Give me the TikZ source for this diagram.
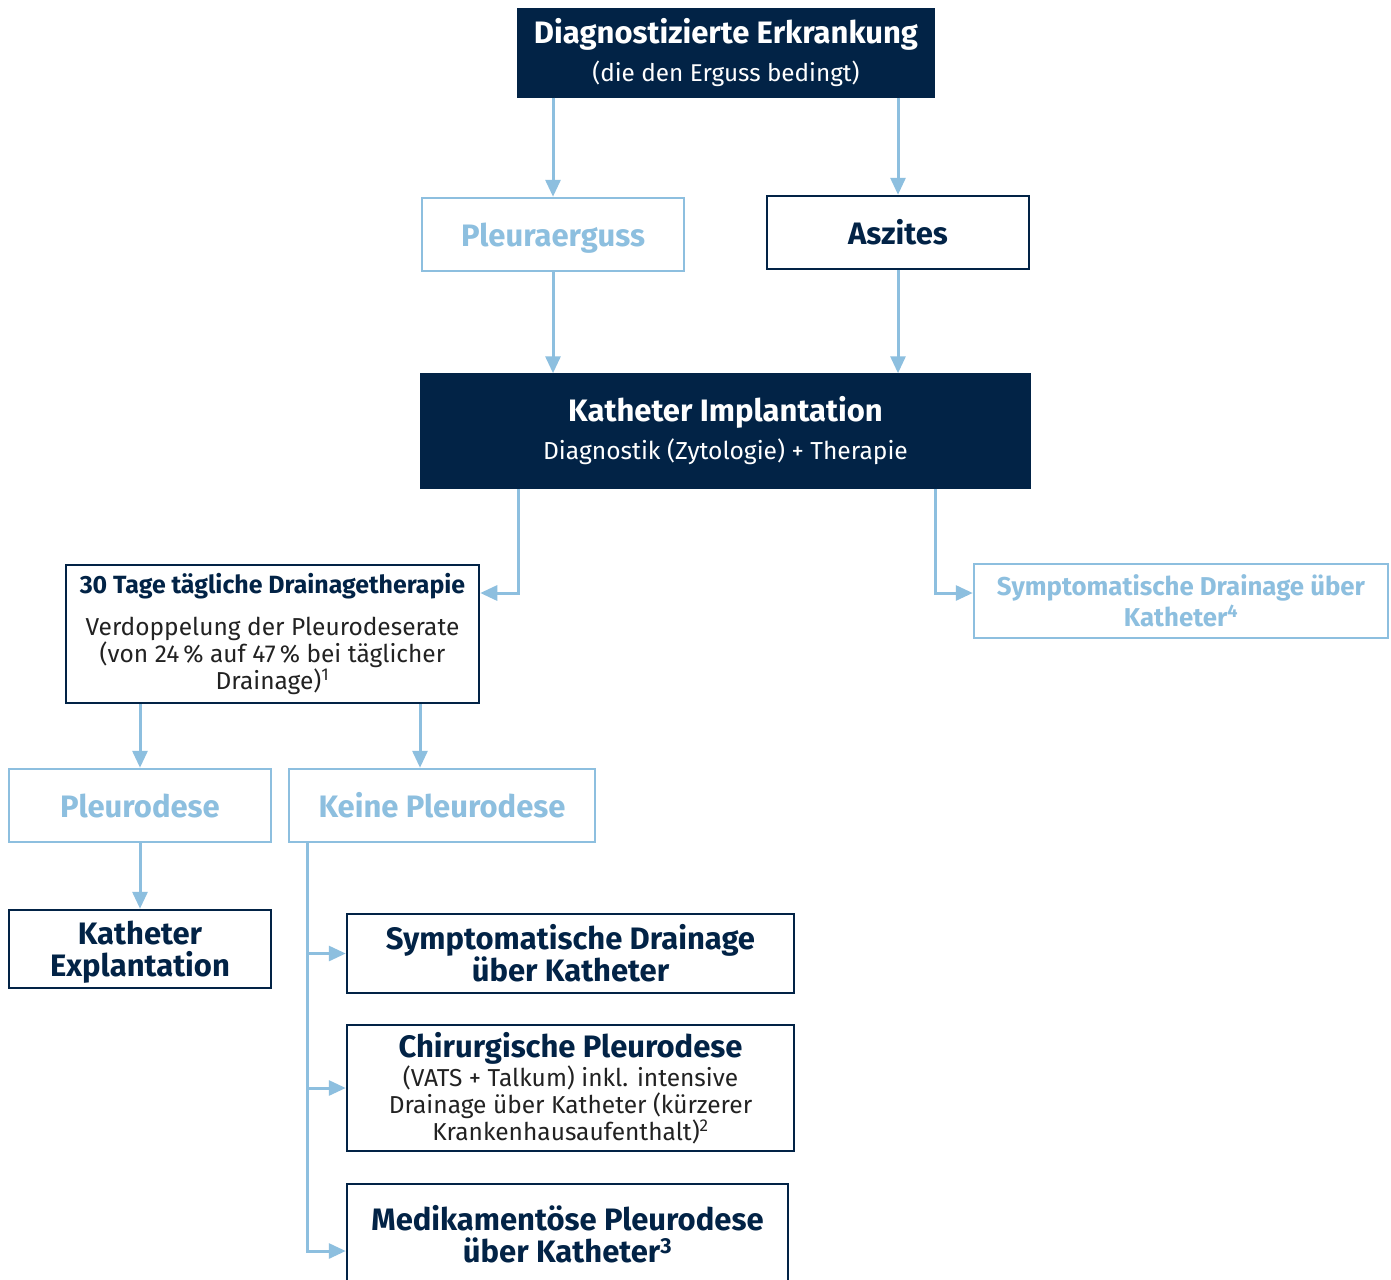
\documentclass[tikz,border=0pt]{standalone}
\usepackage{fontspec}
\setmainfont{Fira Sans}
\usetikzlibrary{arrows.meta}
\definecolor{navy}{HTML}{022346}
\definecolor{lblue}{HTML}{8DBFDF}
\definecolor{txt}{HTML}{222222}
\tikzset{
  box/.style={draw, rectangle, line width=2.5pt, inner sep=0pt, align=center},
  navybox/.style={box, draw=navy, text=navy},
  bluebox/.style={box, draw=lblue, text=lblue},
  filledbox/.style={box, draw=navy, fill=navy, text=white},
  arr/.style={draw=lblue, line width=3pt, -{Triangle[length=17pt,width=15pt]}},
  big/.style={font=\fontsize{31}{32}\selectfont\bfseries},
  oneline/.style={text height=23pt, text depth=0pt},
}
\begin{document}
\begin{tikzpicture}[x=1pt,y=-1pt]
\useasboundingbox (0,0) rectangle (1391,1279);
\clip (0,0) rectangle (1391,1279);
\fill[white] (0,0) rectangle (1391,1279);

\node[filledbox, minimum width=416pt, minimum height=87pt,
  font=\fontsize{31}{38}\selectfont] (diag) at (726,53)
  {\bfseries Diagnostizierte Erkrankung\\ \fontsize{24.3}{38}\selectfont (die den Erguss bedingt)};
\node[bluebox, big, oneline, minimum width=262pt, minimum height=73pt] (pleura) at (553,234.5) {Pleuraerguss};
\node[navybox, big, oneline, minimum width=262pt, minimum height=73pt] (asz) at (898,232.5) {Aszites};
\node[filledbox, minimum width=609pt, minimum height=113pt,
  font=\fontsize{31}{38}\selectfont] (kath) at (725.5,431)
  {\bfseries Katheter Implantation\\ \fontsize{24.6}{38}\selectfont Diagnostik (Zytologie) + Therapie};
\node[navybox, minimum width=413pt, minimum height=138pt,
  font=\fontsize{24.5}{27}\selectfont] (tage) at (272.5,634)
  {\fontsize{24.9}{27}\selectfont\bfseries 30 Tage tägliche Drainagetherapie\\[15pt]
   \color{txt}Verdoppelung der Pleurodeserate\\
   \color{txt}(von 24\,\% auf 47\,\% bei täglicher\\
   \color{txt}Drainage)\textsuperscript{1}};
\node[bluebox, minimum width=414pt, minimum height=74pt,
  font=\fontsize{25.8}{31}\selectfont\bfseries] (symp4) at (1181,601)
  {Symptomatische Drainage über\\ Katheter\textsuperscript{4}};
\node[bluebox, big, oneline, minimum width=262pt, minimum height=73pt] (pleuro) at (140,805.5) {Pleurodese};
\node[bluebox, big, oneline, minimum width=306pt, minimum height=73pt] (keine) at (442,805.5) {Keine Pleurodese};
\node[navybox, big, text depth=0pt, minimum width=262pt, minimum height=78pt] (expl) at (140,949) {Katheter\\ Explantation};
\node[navybox, big, minimum width=447pt, minimum height=79pt] (sd) at (570.5,953.5)
  {Symptomatische Drainage\\ über Katheter};
\node[navybox, minimum width=447pt, minimum height=126pt,
  font=\fontsize{24.5}{27}\selectfont] (chir) at (570.5,1088)
  {\fontsize{31}{27}\selectfont\bfseries Chirurgische Pleurodese\\[0pt]
   \color{txt}(VATS + Talkum) inkl. intensive\\
   \color{txt}Drainage über Katheter (kürzerer\\
   \color{txt}Krankenhausaufenthalt)\textsuperscript{2}};
\node[navybox, big, minimum width=441pt, minimum height=100pt] (medi) at (567.5,1234)
  {Medikamentöse Pleurodese\\ über Katheter\textsuperscript{3}};

\draw[arr] (pleura.north |- diag.south) -- (pleura.north);
\draw[arr] (asz.north |- diag.south) -- (asz.north);
\draw[arr] (pleura.south) -- (pleura.south |- kath.north);
\draw[arr] (asz.south) -- (asz.south |- kath.north);
\draw[arr] ([xshift=-207.5pt]kath.south) |- ([yshift=41pt]tage.east);
\draw[arr] ([xshift=209.5pt]kath.south) |- ([yshift=8pt]symp4.west);
\draw[arr] (pleuro.north |- tage.south) -- (pleuro.north);
\draw[arr] ([xshift=-22pt]keine.north |- tage.south) -- ([xshift=-22pt]keine.north);
\draw[arr] (pleuro.south) -- (expl.north);
\coordinate (trunk) at ([xshift=20pt]keine.south west);
\draw[arr] (trunk) |- (sd.west);
\draw[arr] (trunk) |- (chir.west);
\draw[arr] (trunk) |- ([yshift=-17pt]medi.west);
\end{tikzpicture}
\end{document}
